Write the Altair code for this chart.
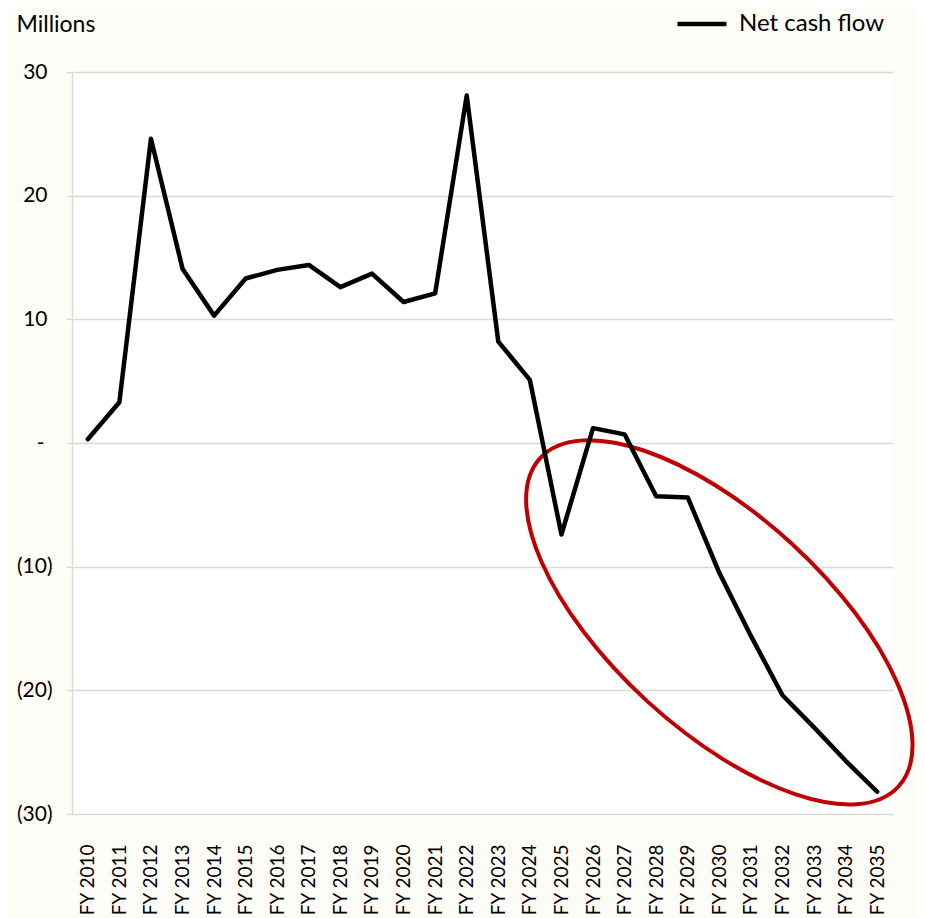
import altair as alt
import pandas as pd

years = ["FY 2010", "FY 2011", "FY 2012", "FY 2013", "FY 2014", "FY 2015", "FY 2016",
         "FY 2017", "FY 2018", "FY 2019", "FY 2020", "FY 2021", "FY 2022", "FY 2023",
         "FY 2024", "FY 2025", "FY 2026", "FY 2027", "FY 2028", "FY 2029", "FY 2030",
         "FY 2031", "FY 2032", "FY 2033", "FY 2034", "FY 2035"]
net_cash_flow = [0.3, 3.3, 24.6, 14.1, 10.3, 13.3, 14.0, 14.4, 12.6, 13.7, 11.4, 12.1, 28.1,
                 8.2, 5.1, -7.4, 1.2, 0.7, -4.3, -4.4, -10.5, -15.6, -20.4, -23.0, -25.7, -28.2]
series_name = "Net cash flow"
y_ticks = [-30, -20, -10, 0, 10, 20, 30]
unit_label = "Millions"

# highlight ellipse annotation anchor
ellipse_year = ["FY 2030"]
ellipse_value = [-14.5]

ELLIPSE_PATH = ("M1,0 C1,0.243 0.552,0.44 0,0.44 C-0.552,0.44 -1,0.243 -1,0 "
                "C-1,-0.243 -0.552,-0.44 0,-0.44 C0.552,-0.44 1,-0.243 1,0 Z")

df = pd.DataFrame({"year": years, "value": net_cash_flow, "series": series_name})
ell_df = pd.DataFrame({"year": ellipse_year, "value": ellipse_value})

FONT = "Lato"
GRID = "#d9d9d9"

x_enc = alt.X("year:N", sort=years, title=None,
              axis=alt.Axis(labelAngle=-90, labelFontSize=19, labelFont=FONT, labelColor="#000000",
                            ticks=False, tickSize=0, domain=False, grid=False, labelPadding=30))
y_enc = alt.Y("value:Q", title=unit_label,
              scale=alt.Scale(domain=[-30, 30], nice=False, zero=False),
              axis=alt.Axis(values=y_ticks,
                            labelExpr="datum.value > 0 ? format(datum.value, 'd') : (datum.value < 0 ? '(' + format(-datum.value, 'd') + ')' : '-')",
                            labelFontSize=21, labelFont=FONT, labelColor="#000000",
                            labelPadding={"condition": [{"test": "datum.value > 0", "value": 19},
                                                        {"test": "datum.value == 0", "value": 22}],
                                          "value": 14},
                            grid=True, gridColor=GRID, gridWidth=1.4,
                            domain=True, domainColor=GRID, domainWidth=1.4,
                            ticks=True, tickColor=GRID, tickSize=6, tickWidth=1.4,
                            titleAngle=0, titleAlign="left", titleBaseline="alphabetic",
                            titleX=-56, titleY=-41, titleFontSize=23, titleFont=FONT,
                            titleFontWeight="normal", titleColor="#000000"))

ellipse = alt.Chart(ell_df).mark_point(
    shape=ELLIPSE_PATH, size=486 * 486, angle=42.5, filled=False,
    stroke="#c00000", strokeWidth=4, opacity=1
).encode(x=alt.X("year:N", sort=years), y=alt.Y("value:Q"))

line = alt.Chart(df).mark_line(strokeWidth=4.5, strokeJoin="round", strokeCap="round").encode(
    x=x_enc, y=y_enc,
    color=alt.Color("series:N", scale=alt.Scale(range=["#000000"]),
                    legend=alt.Legend(title=None, orient="none", legendX=603, legendY=-75,
                                      symbolType="stroke", symbolSize=2401, symbolStrokeWidth=4.5,
                                      labelFontSize=24, labelFont=FONT, labelColor="#000000",
                                      labelOffset=10, padding=0))
)

chart = alt.layer(ellipse, line).properties(
    width=821, height=742,
    autosize=alt.AutoSizeParams(type="none"),
    padding={"left": 64, "top": 64, "right": 24, "bottom": 104},
    background="#fefdf8"
).configure_view(fill="#ffffff", stroke=None)

chart.save("out.html", embed_options={"renderer": "svg", "actions": False})
